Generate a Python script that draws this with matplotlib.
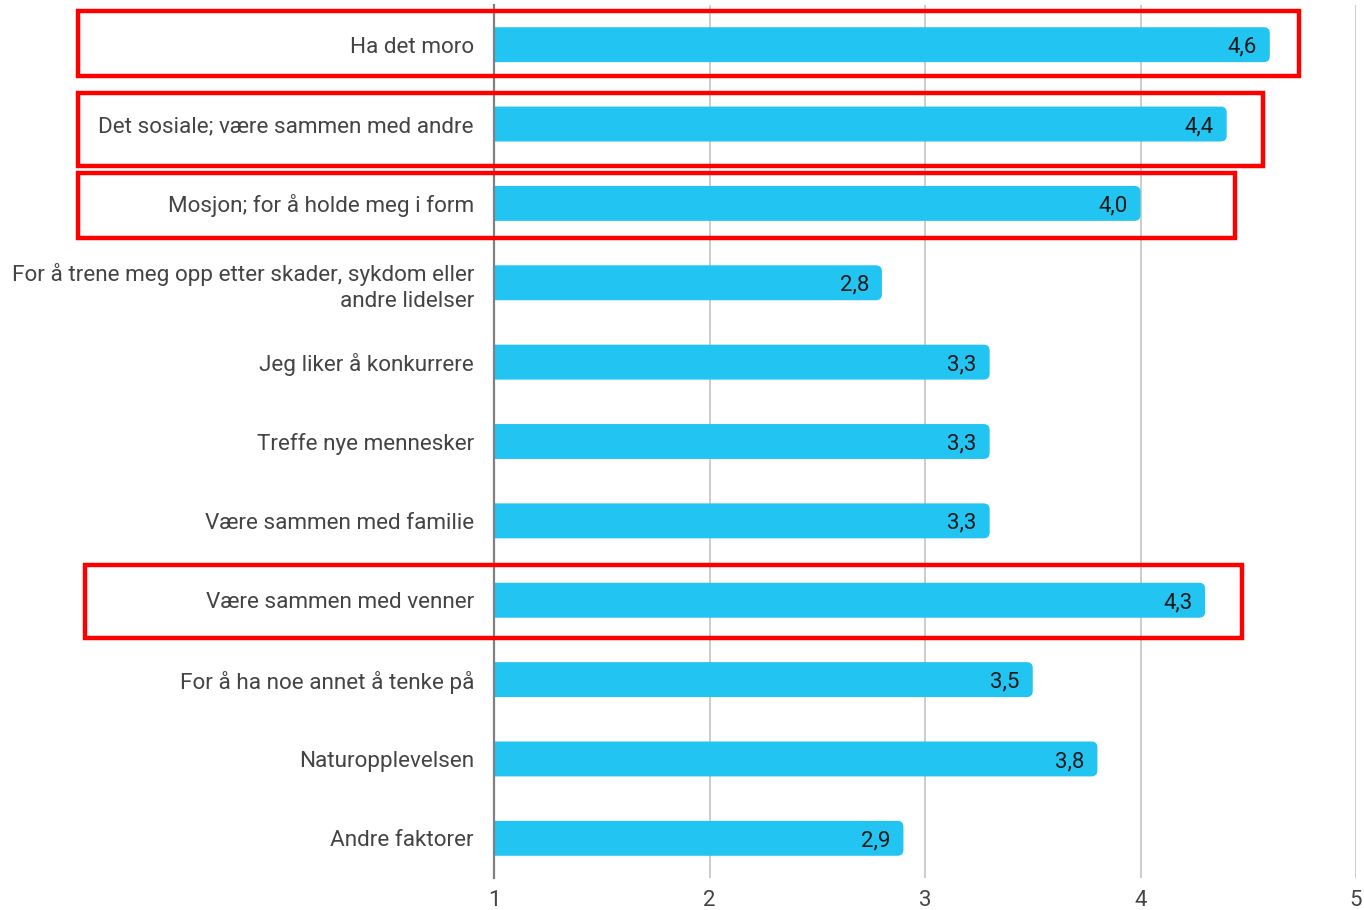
import matplotlib
matplotlib.use('Agg')
import matplotlib.pyplot as plt
from matplotlib.patches import FancyBboxPatch, Rectangle

plt.rcParams['font.family'] = ['Roboto', 'DejaVu Sans']

categories = [
    "Ha det moro",
    "Det sosiale; være sammen med andre",
    "Mosjon; for å holde meg i form",
    "For å trene meg opp etter skader, sykdom eller\nandre lidelser",
    "Jeg liker å konkurrere",
    "Treffe nye mennesker",
    "Være sammen med familie",
    "Være sammen med venner",
    "For å ha noe annet å tenke på",
    "Naturopplevelsen",
    "Andre faktorer",
]
values = [4.6, 4.4, 4.0, 2.8, 3.3, 3.3, 3.3, 4.3, 3.5, 3.8, 2.9]
x_ticks = [1, 2, 3, 4, 5]

# red highlight boxes: (row, x_left, x_right, dy_top, dy_bottom) in data units
highlights = [
    (0, -0.93, 4.735, -0.42, 0.39),
    (1, -0.93, 4.568, -0.39, 0.53),
    (2, -0.93, 4.439, -0.38, 0.43),
    (7, -0.90, 4.471, -0.44, 0.48),
]

bar_color = '#22C4F2'
bar_h = 0.44

fig = plt.figure(figsize=(13.64, 9.10), dpi=100)
ax = fig.add_axes([494 / 1364, 32 / 910, 862 / 1364, 873 / 910])
ax.set_xlim(1, 5)
ax.set_ylim(len(categories) - 0.5, -0.5)

# rounding so corners look circular in pixels
px_x = 862 / 4
px_y = 873 / len(categories)
r = 6 / px_x
aspect = (6 / px_y) / r

for i, v in enumerate(values):
    # start left of the axis so the left rounded corners get clipped away
    start = 1 - 3 * r
    ax.add_patch(FancyBboxPatch((start, i - bar_h / 2), v - start, bar_h,
                                boxstyle=f"round,pad=0,rounding_size={r}",
                                mutation_aspect=aspect,
                                facecolor=bar_color, edgecolor='none', zorder=3))
    ax.text(v - 0.06, i, f"{v:.1f}".replace('.', ','), ha='right',
            va='center_baseline', fontsize=16, color='#1a1a1a', zorder=4)

ax.set_yticks(range(len(categories)))
ax.set_yticklabels(categories, fontsize=16.2, color='#444444', ha='right',
                   linespacing=1.3)
ax.set_xticks(x_ticks)
ax.set_xticklabels([str(t) for t in x_ticks], fontsize=16, color='#444444')
ax.tick_params(axis='both', length=0)
ax.tick_params(axis='y', pad=14.4)
ax.tick_params(axis='x', pad=9)

ax.grid(axis='x', color='#c8c8c8', linewidth=1.3, zorder=0)
for s in ['top', 'right', 'bottom']:
    ax.spines[s].set_visible(False)
ax.spines['left'].set_color('#808080')
ax.spines['left'].set_linewidth(1.6)
ax.spines['left'].set_zorder(5)

for row, x0, x1, dy0, dy1 in highlights:
    ax.add_patch(Rectangle((x0, row + dy0), x1 - x0, dy1 - dy0, fill=False,
                           edgecolor='#ff0000', linewidth=3.2, clip_on=False,
                           zorder=6))

fig.savefig('out.png', dpi=100, facecolor='white')
